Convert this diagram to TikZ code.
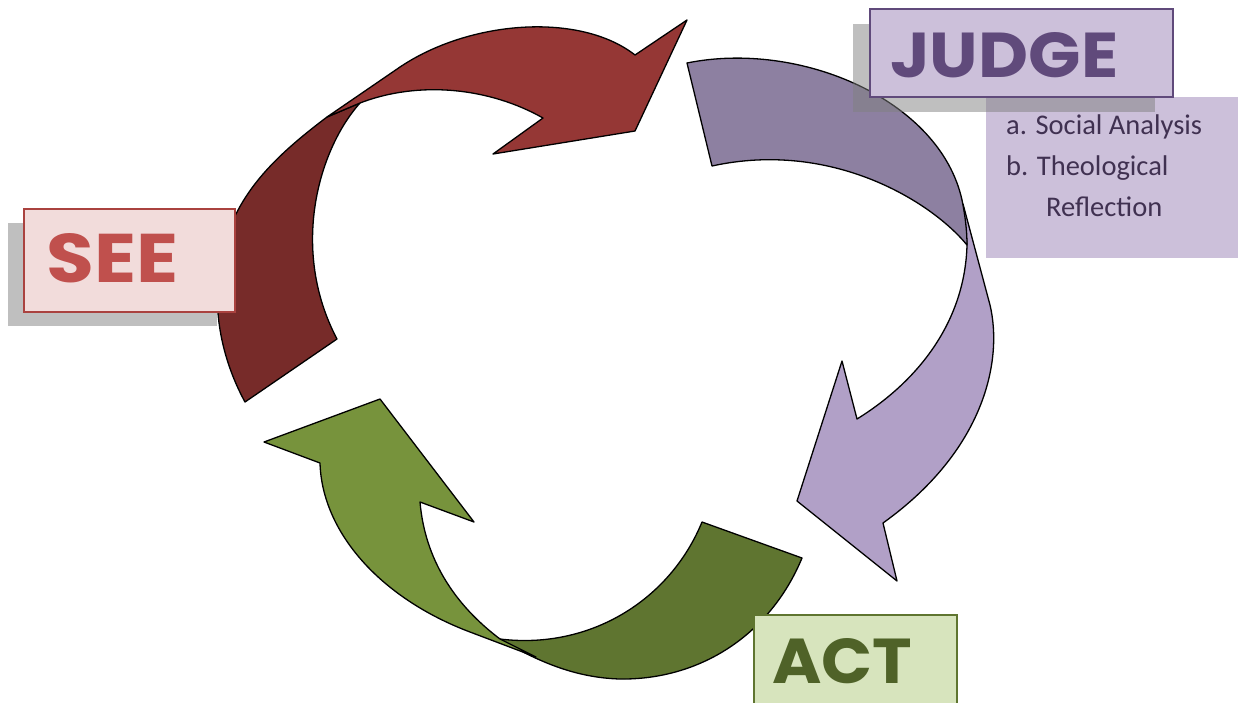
\documentclass[tikz,border=0pt]{standalone}
\usepackage{fontspec}
\usepackage{graphicx}
\setmainfont{Carlito}
\newfontfamily\deco{Poppins}
\definecolor{redHead}{RGB}{149,55,53}
\definecolor{redTail}{RGB}{119,43,41}
\definecolor{purTail}{RGB}{141,128,161}
\definecolor{purHead}{RGB}{177,160,199}
\definecolor{grnHead}{RGB}{119,147,60}
\definecolor{grnTail}{RGB}{95,117,48}
\definecolor{seeFill}{RGB}{242,220,219}
\definecolor{seeText}{RGB}{192,80,77}
\definecolor{seeLine}{RGB}{170,66,63}
\definecolor{judFill}{RGB}{204,192,218}
\definecolor{judText}{RGB}{96,74,123}
\definecolor{subText}{RGB}{64,49,81}
\definecolor{actFill}{RGB}{215,228,189}
\definecolor{actText}{RGB}{79,98,40}
\definecolor{actLine}{RGB}{95,117,48}
\tikzset{
  arrowpart/.style={draw=black, line width=1.3pt, line join=round},
  shadowbox/.style={fill=black!50, fill opacity=0.5, draw=none},
  titletext/.style={inner sep=0pt, anchor=north west},
  subtxt/.style={inner sep=0pt, anchor=base west, text=subText, font=\fontsize{28.5}{34}\selectfont}
}
\begin{document}
\begin{tikzpicture}[x=1pt,y=-1pt]
\useasboundingbox (0,0) rectangle (1238,702);
\fill[white] (0,0) rectangle (1238,702);

% red arrow (SEE -> JUDGE)
\filldraw[arrowpart, fill=redTail] (245,402) .. controls (222,360) and (212,310) .. (220,265)
  .. controls (230,200) and (270,160) .. (327,117) -- (360,103)
  .. controls (318,150) and (290,250) .. (337,339) -- cycle;
\filldraw[arrowpart, fill=redHead] (327,117) -- (400,67) .. controls (470,20) and (580,12) .. (635,55)
  -- (687,20) -- (635,131) -- (493,154) -- (543,118)
  .. controls (490,88) and (420,80) .. (360,103) -- cycle;

% purple arrow (JUDGE -> ACT)
\filldraw[arrowpart, fill=purHead] (963,204) -- (990,305) .. controls (1003,360) and (985,450) .. (883,523)
  -- (897,581) -- (797,501) -- (842,361) -- (857,419)
  .. controls (920,380) and (965,320) .. (967,245) -- cycle;
\filldraw[arrowpart, fill=purTail] (712,166) -- (687,63) .. controls (800,40) and (940,100) .. (962,200)
  .. controls (965,215) and (967,230) .. (967,245)
  .. controls (930,200) and (830,140) .. (712,166) -- cycle;

% green arrow (ACT -> SEE)
\filldraw[arrowpart, fill=grnTail] (702,522) -- (802,558) .. controls (770,635) and (700,680) .. (620,679)
  .. controls (585,678) and (555,668) .. (525,653) -- (500,639)
  .. controls (590,650) and (670,600) .. (702,522) -- cycle;
\filldraw[arrowpart, fill=grnHead] (536,657) -- (470,632) .. controls (380,598) and (322,532) .. (320,463)
  -- (264,442) -- (380,399) -- (474,522) -- (420,502)
  .. controls (425,560) and (455,605) .. (500,639) -- cycle;

% JUDGE sub box
\node[fill=judFill, draw=none, inner sep=0pt, minimum width=252pt, minimum height=161pt, anchor=north west] (sub) at (986,97) {};

% shadows
\fill[shadowbox] (8,223) rectangle (217,326);
\fill[shadowbox] (853,24) rectangle (1155,112);

% title boxes
\node[fill=seeFill, draw=seeLine, line width=1.5pt, inner sep=0pt, minimum width=211pt, minimum height=103pt, anchor=north west] (seebox) at (23,208) {};
\node[fill=judFill, draw=judText, line width=2pt, inner sep=0pt, minimum width=303pt, minimum height=88pt, anchor=north west] (judbox) at (869,8) {};
\node[fill=actFill, draw=actLine, line width=1.5pt, inner sep=0pt, minimum width=203pt, minimum height=100pt, anchor=north west] (actbox) at (753,614) {};

% titles
\node[titletext, text=seeText] (see) at (46,233) {\resizebox{132pt}{49pt}{\deco\bfseries SEE}};
\node[titletext, text=judText] (judge) at (890,32) {\resizebox{228pt}{45pt}{\deco\bfseries JUDGE}};
\node[titletext, text=actText] (act) at (772,638) {\resizebox{140pt}{45pt}{\deco\bfseries ACT}};

% sub texts
\node[subtxt] (sa) at (1006,134) {a. Social Analysis};
\node[subtxt] (tb) at (1006,175) {b. Theological};
\node[subtxt] (tr) at (1046,216) {Reflection};
\end{tikzpicture}
\end{document}
